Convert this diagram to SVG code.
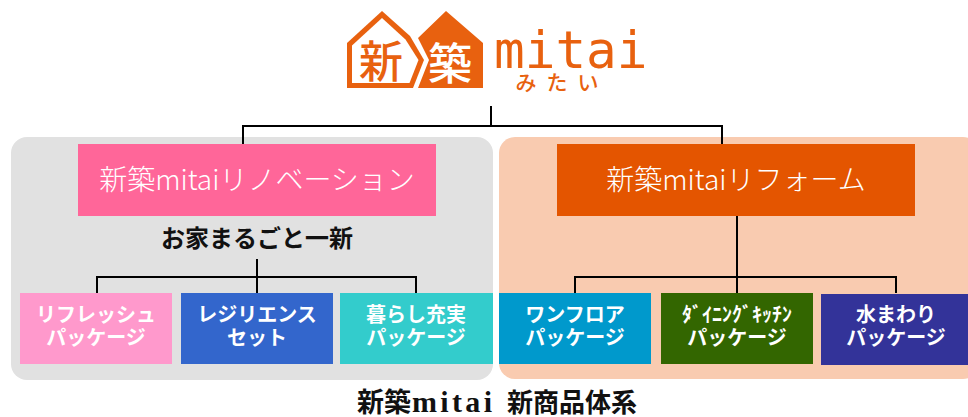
<svg xmlns="http://www.w3.org/2000/svg" width="968" height="417" viewBox="0 0 968 417">
<style>
.ln{fill:none;stroke:#000;stroke-width:2}
.hd{font-family:"Noto Sans CJK JP","Noto Sans",sans-serif;font-weight:300;font-size:28px;fill:#fff;text-anchor:middle}
.bx{font-family:"Noto Sans CJK JP","Noto Sans",sans-serif;font-weight:bold;font-size:20px;fill:#fff;text-anchor:middle}
.lg{fill:#e8610f}
</style>
<rect width="968" height="417" fill="#fff"/>
<g id="panel-renovation"><rect x="11" y="137" width="482" height="243" rx="16" fill="#e1e1e1"/></g>
<g id="panel-reform"><rect x="499" y="137" width="480" height="242" rx="16" fill="#f9cbb0"/></g>
<g id="logo">
<polygon class="lg" points="347,88 347,43 382,11 410,36 424,60 413,88"/>
<polygon fill="#fff" points="352,83 352,45.5 382,18 405.5,39.5 418.5,60 409.5,83"/>
<polygon class="lg" points="418,38 446,11 483,43 483,88 418,88 429,60"/>
<text x="381" y="78" font-family="Noto Sans CJK JP,sans-serif" font-size="44" font-weight="500" fill="#e8610f" text-anchor="middle">新</text>
<text x="450" y="80" font-family="Noto Sans CJK JP,sans-serif" font-size="44" font-weight="500" fill="#fff" text-anchor="middle">築</text>
<text x="494" y="68" font-family="DejaVu Sans Mono,monospace" font-size="51" class="lg">mitai</text>
<text x="562" y="90" font-family="Noto Sans CJK JP,sans-serif" font-size="21" font-weight="500" letter-spacing="10" class="lg" text-anchor="middle">みたい</text>
</g>
<g id="connectors">
<polyline class="ln" points="243,144 243,126 722,126 722,144"/>
<line class="ln" x1="491" y1="106" x2="491" y2="126"/>
<line class="ln" x1="257" y1="259" x2="257" y2="293"/>
<polyline class="ln" points="97,293 97,277 416,277 416,293"/>
<line class="ln" x1="737" y1="216" x2="737" y2="293"/>
<polyline class="ln" points="575,293 575,277 896,277 896,293"/>
</g>
<g id="renovation">
<rect x="78" y="144" width="358" height="72" fill="#ff6699"/>
<text class="hd" x="257" y="190">新築mitaiリノベーション</text>
</g>
<g id="reform">
<rect x="557" y="144" width="358" height="72" fill="#e45500"/>
<text class="hd" x="736" y="190">新築mitaiリフォーム</text>
</g>
<g id="subtitle">
<text x="257" y="247" font-family="Noto Sans CJK JP,sans-serif" font-weight="bold" font-size="24" text-anchor="middle" fill="#111">お家まるごと一新</text>
</g>
<g id="refresh">
<rect x="20" y="293" width="152" height="71" fill="#ff99cc"/>
<text class="bx" x="96" y="322">リフレッシュ</text>
<text class="bx" x="96" y="345">パッケージ</text>
</g>
<g id="resilience">
<rect x="181" y="293" width="152" height="71" fill="#3366cc"/>
<text class="bx" x="257" y="322">レジリエンス</text>
<text class="bx" x="257" y="345">セット</text>
</g>
<g id="kurashi">
<rect x="340" y="293" width="153" height="71" fill="#33cccc"/>
<text class="bx" x="416" y="322">暮らし充実</text>
<text class="bx" x="416" y="345">パッケージ</text>
</g>
<g id="onefloor">
<rect x="499" y="293" width="152" height="71" fill="#0099cc"/>
<text class="bx" x="575" y="322">ワンフロア</text>
<text class="bx" x="575" y="345">パッケージ</text>
</g>
<g id="dining">
<rect x="661" y="293" width="152" height="71" fill="#336600"/>
<text class="bx" x="737" y="322" font-weight="500">ﾀﾞｲﾆﾝｸﾞｷｯﾁﾝ</text>
<text class="bx" x="737" y="345">パッケージ</text>
</g>
<g id="mizumawari">
<rect x="821" y="294" width="152" height="71" fill="#333399"/>
<text class="bx" x="896" y="322">水まわり</text>
<text class="bx" x="896" y="345">パッケージ</text>
</g>
<g id="title">
<text y="412" font-family="Liberation Serif,Noto Sans CJK JP,serif" font-weight="bold" font-size="26" fill="#111"><tspan x="357" font-size="27">新築</tspan><tspan x="412" font-size="30" textLength="80" lengthAdjust="spacing">mitai</tspan><tspan x="507">新商品体系</tspan></text>
</g>
</svg>
